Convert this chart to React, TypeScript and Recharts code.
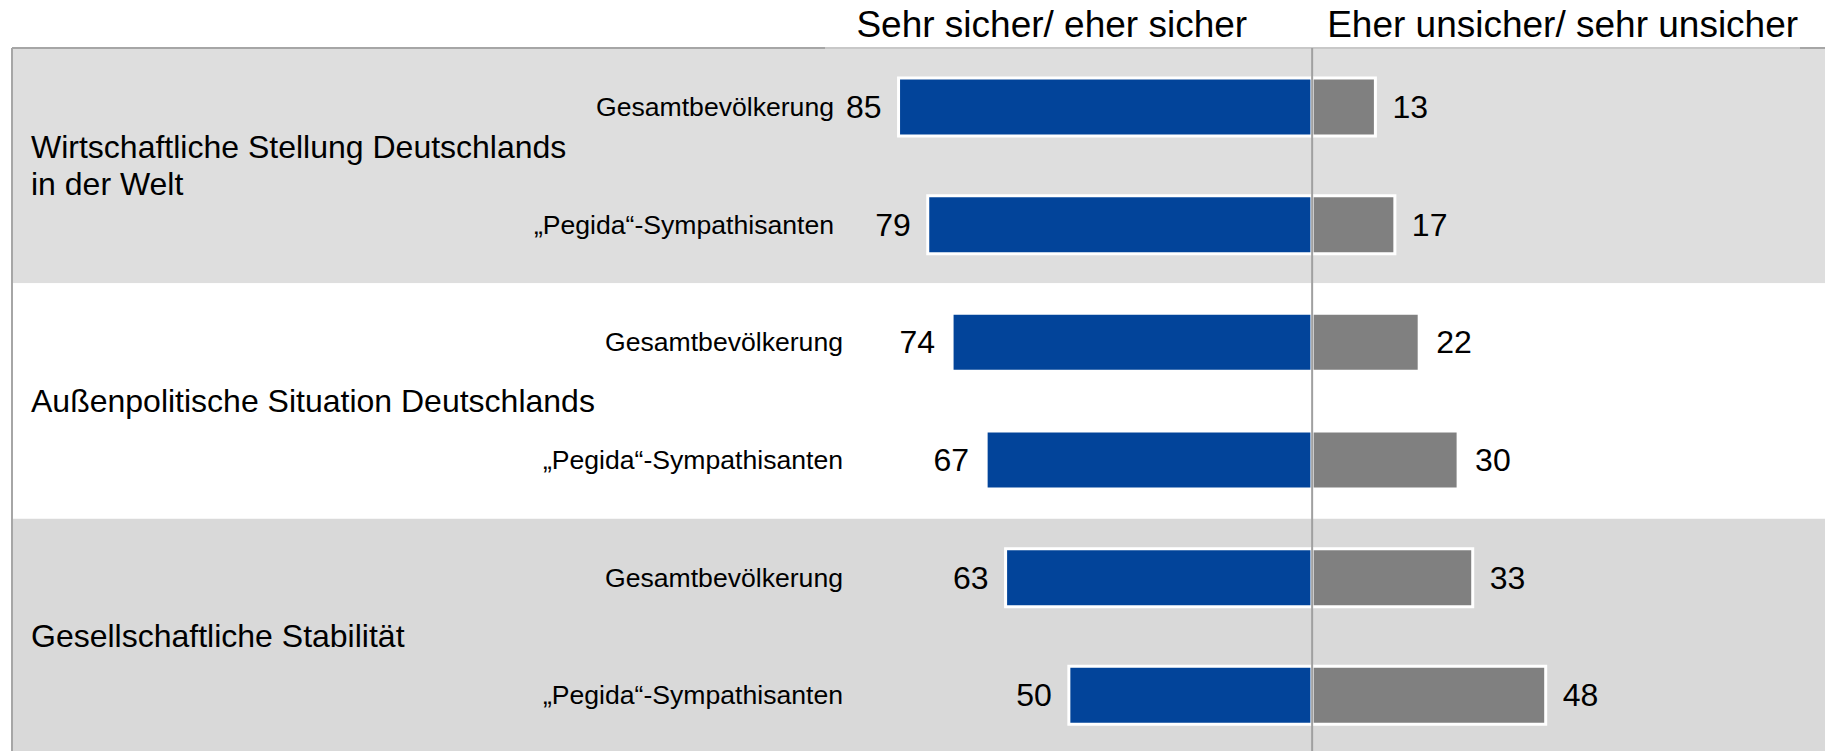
import { BarChart, Bar, XAxis, YAxis, ReferenceArea, ReferenceLine, LabelList } from "recharts";

const rowIds = ["r1", "r2", "r3", "r4", "r5", "r6"];
const subLabels = [
  "Gesamtbevölkerung",
  "„Pegida“-Sympathisanten",
  "Gesamtbevölkerung",
  "„Pegida“-Sympathisanten",
  "Gesamtbevölkerung",
  "„Pegida“-Sympathisanten",
];
const sicher = [85, 79, 74, 67, 63, 50];
const unsicher = [13, 17, 22, 30, 33, 48];

const groupLabels = [
  ["Wirtschaftliche Stellung Deutschlands", "in der Welt"],
  ["Außenpolitische Situation Deutschlands"],
  ["Gesellschaftliche Stabilität"],
];
const groupFills = ["#dedede", "#ffffff", "#d9d9d9"];
const headers = ["Sehr sicher/ eher sicher", "Eher unsicher/ sehr unsicher"];

const data = rowIds.map((id, i) => ({
  id,
  label: subLabels[i],
  sicher: -sicher[i],
  unsicher: unsicher[i],
}));

const FONT = "'Liberation Sans', Arial, sans-serif";
const BLUE = "#02449a";
const GREY = "#808080";

const SubTick = (props: any) => {
  const { y, payload, index } = props;
  const idx = payload?.index ?? index ?? 0;
  const right = idx < 2 ? 834 : 843;
  return (
    <text x={right} y={y} textAnchor="end" dominantBaseline="central" fontSize={26.6} fontFamily={FONT} fill="#000">
      {data[idx]?.label}
    </text>
  );
};

const ValueLabel = (side: "left" | "right") => (props: any) => {
  const { x, y, width, height, value } = props;
  const left = Math.min(x, x + width);
  const right = Math.max(x, x + width);
  return (
    <text
      x={side === "left" ? left - 17 : right + 17}
      y={y + height / 2}
      textAnchor={side === "left" ? "end" : "start"}
      dominantBaseline="central"
      fontSize={32}
      fontFamily={FONT}
      fill="#000"
    >
      {Math.abs(value)}
    </text>
  );
};

const GroupLabel = ({ viewBox, lines, first }: any) => {
  const { x, y, width, height } = viewBox;
  const cy = y + height / 2;
  const gap = 37;
  const start = cy - ((lines.length - 1) * gap) / 2;
  return (
    <g>
      {first && (
        <g>
          <line x1={x} x2={825} y1={y} y2={y} stroke="#a6a6a6" strokeWidth={2} />
          <line x1={825} x2={1800} y1={y} y2={y} stroke="#c8c8c8" strokeWidth={2} />
          <line x1={1800} x2={x + width} y1={y} y2={y} stroke="#a6a6a6" strokeWidth={2} />
        </g>
      )}
      {lines.map((t: string, i: number) => (
        <text
          key={i}
          x={x + 19}
          y={start + i * gap}
          dominantBaseline="central"
          fontSize={32}
          fontFamily={FONT}
          fill="#000"
        >
          {t}
        </text>
      ))}
    </g>
  );
};

const Headers = ({ viewBox }: any) => {
  const { x, y } = viewBox;
  return (
    <g fontFamily={FONT} fontSize={37} fill="#000">
      <text x={x - 65} y={y - 11} textAnchor="end">
        {headers[0]}
      </text>
      <text x={x + 15} y={y - 11} textAnchor="start">
        {headers[1]}
      </text>
    </g>
  );
};

export default function App() {
  return (
    <div style={{ position: "absolute", left: 0, top: 0, width: 1825, height: 751, overflow: "hidden", background: "#fff" }}>
      <BarChart
        width={1825}
        height={754}
        data={data}
        layout="vertical"
        stackOffset="sign"
        margin={{ top: 48, right: 0, bottom: 0, left: 11 }}
      >
        <XAxis type="number" domain={[-267.2, 105.4]} allowDataOverflow hide />
        <YAxis
          type="category"
          dataKey="id"
          width={1}
          tick={<SubTick />}
          tickLine={false}
          axisLine={{ stroke: "#a6a6a6", strokeWidth: 2 }}
          interval={0}
        />
        {groupLabels.map((lines, g) => (
          <ReferenceArea
            key={g}
            y1={rowIds[g * 2]}
            y2={rowIds[g * 2 + 1]}
            fill={groupFills[g]}
            fillOpacity={1}
            stroke="none"
            ifOverflow="visible"
            label={<GroupLabel lines={lines} first={g === 0} />}
          />
        ))}
        <Bar dataKey="sicher" stackId="a" fill={BLUE} stroke="#fff" strokeWidth={3} barSize={58} isAnimationActive={false}>
          <LabelList dataKey="sicher" content={ValueLabel("left")} />
        </Bar>
        <Bar dataKey="unsicher" stackId="a" fill={GREY} stroke="#fff" strokeWidth={3} barSize={58} isAnimationActive={false}>
          <LabelList dataKey="unsicher" content={ValueLabel("right")} />
        </Bar>
        <ReferenceLine x={0} stroke="#a0a0a0" strokeWidth={2} label={<Headers />} />
      </BarChart>
    </div>
  );
}
